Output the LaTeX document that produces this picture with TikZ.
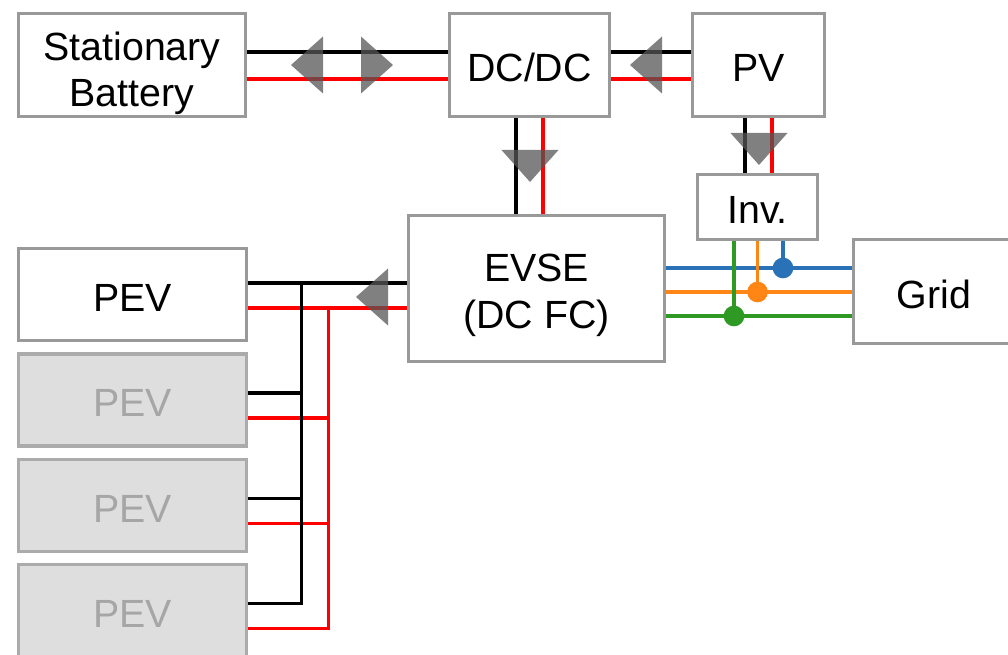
\documentclass[tikz,border=0pt]{standalone}
\usepackage{fontspec}
\setmainfont{Liberation Sans}
\usetikzlibrary{calc}
\definecolor{boxgray}{HTML}{999999}
\definecolor{ghostfill}{HTML}{DEDEDE}
\definecolor{ghostdraw}{HTML}{ABABAB}
\definecolor{ghosttext}{HTML}{A6A6A6}
\definecolor{flowgray}{HTML}{565656}
\definecolor{acblue}{HTML}{2A72B8}
\definecolor{acorange}{HTML}{FF8515}
\definecolor{acgreen}{HTML}{2E9A24}
\tikzset{
  unit/.style={draw=boxgray, line width=2.6pt, fill=white, align=center, inner sep=0pt,
    font=\fontsize{29.5}{35}\selectfont, text height=25pt, text depth=0pt},
  ghost/.style={unit, draw=ghostdraw, fill=ghostfill, text=ghosttext},
  negwire/.style={line width=2.4pt, draw=black},
  poswire/.style={line width=2.4pt, draw=red},
  acwire/.style={line width=2.4pt, draw=#1},
  tap/.style={circle, inner sep=0pt, minimum size=15.5pt},
  flow/.pic={\fill[flowgray, fill opacity=0.75] (0,-28.5) -- (32,0) -- (0,28.5) -- cycle;}
}
\begin{document}
\begin{tikzpicture}[x=0.75pt, y=-0.75pt]
\useasboundingbox (0,0) rectangle (1008,655);
\node[unit, text height=63pt, minimum width=170.25pt, minimum height=77.25pt] (bat) at (132,65) {Stationary\\Battery};
\node[unit, minimum width=120pt, minimum height=77.25pt] (dcdc) at (529.5,65) {DC/DC};
\node[unit, minimum width=99pt, minimum height=77.25pt] (pv) at (758.5,65) {PV};
\node[unit, minimum width=90pt, minimum height=48.75pt] (inv) at (757.5,207) {Inv.};
\node[unit, text height=60pt, minimum width=192pt, minimum height=109.5pt] (evse) at (536.5,288.5) {EVSE\\(DC FC)};
\node[unit, minimum width=120.75pt, minimum height=78pt] (grid) at (934,291.5) {Grid};
\node[unit, minimum width=171pt, minimum height=69pt] (pev1) at (132.5,294.5) {PEV};
\node[ghost, minimum width=171pt, minimum height=69pt] (pev2) at (132.5,400) {PEV};
\node[ghost, minimum width=171pt, minimum height=69pt] (pev3) at (132.5,505.5) {PEV};
\node[ghost, minimum width=171pt, minimum height=69pt] (pev4) at (132.5,610.5) {PEV};

% DC side
\path[poswire] ($(bat.east)+(0,14)$) -- ($(dcdc.west)+(0,14)$);
\path[negwire] ($(bat.east)+(0,-13)$) -- ($(dcdc.west)+(0,-13)$);
\path[poswire] ($(pv.west)+(0,14)$) -- ($(dcdc.east)+(0,14)$);
\path[negwire] ($(pv.west)+(0,-13)$) -- ($(dcdc.east)+(0,-13)$);
\coordinate (dn) at ($(dcdc.south)+(-13.5,0)$);
\coordinate (dp) at ($(dcdc.south)+(13.5,0)$);
\path[negwire] (dn) -- (dn |- evse.north);
\path[poswire] (dp) -- (dp |- evse.north);
\coordinate (vn) at ($(pv.south)+(-13.5,0)$);
\coordinate (vp) at ($(pv.south)+(13.5,0)$);
\path[negwire] (vn) -- (vn |- inv.north);
\path[poswire] (vp) -- (vp |- inv.north);

% PEV bus
\coordinate (en) at ($(evse.west)+(0,-5.5)$);
\coordinate (ep) at ($(evse.west)+(0,19.5)$);
\coordinate (bn) at ($(pev1.east)+(53.5,-11.5)$);
\coordinate (bp) at ($(pev1.east)+(80.5,13.5)$);
\path[poswire] (ep) -- (ep -| pev1.east);
\foreach \k in {2,3,4}
  \path[poswire] ($(pev\k.east)+(0,18)$) -| (bp);
\path[negwire] (en) -- (en -| pev1.east);
\foreach \k in {2,3,4}
  \path[negwire] ($(pev\k.east)+(0,-7)$) -| (bn);

% AC side
\coordinate (ab) at ($(evse.east)+(0,-20.5)$);
\coordinate (ao) at ($(evse.east)+(0,3.5)$);
\coordinate (ag) at ($(evse.east)+(0,27.5)$);
\path[acwire=acblue] (ab) -- (ab -| grid.west);
\path[acwire=acorange] (ao) -- (ao -| grid.west);
\path[acwire=acgreen] (ag) -- (ag -| grid.west);
\coordinate (ib) at ($(inv.south)+(25.5,0)$);
\coordinate (io) at ($(inv.south)+(0,0)$);
\coordinate (ig) at ($(inv.south)+(-23.5,0)$);
\node[tap, fill=acblue] (tb) at (ib |- ab) {};
\node[tap, fill=acorange] (to) at (io |- ao) {};
\node[tap, fill=acgreen] (tg) at (ig |- ag) {};
\path[acwire=acblue] (ib) -- (tb.center);
\path[acwire=acorange] (io) -- (to.center);
\path[acwire=acgreen] (ig) -- (tg.center);

% power flow
\pic[rotate=180] at (323,65) {flow};
\pic at (361,65) {flow};
\pic[rotate=180] at (662,65) {flow};
\pic[rotate=-90] at (530,150) {flow};
\pic[rotate=-90] at (759,133) {flow};
\pic[rotate=180] at (388,297) {flow};
\end{tikzpicture}
\end{document}
